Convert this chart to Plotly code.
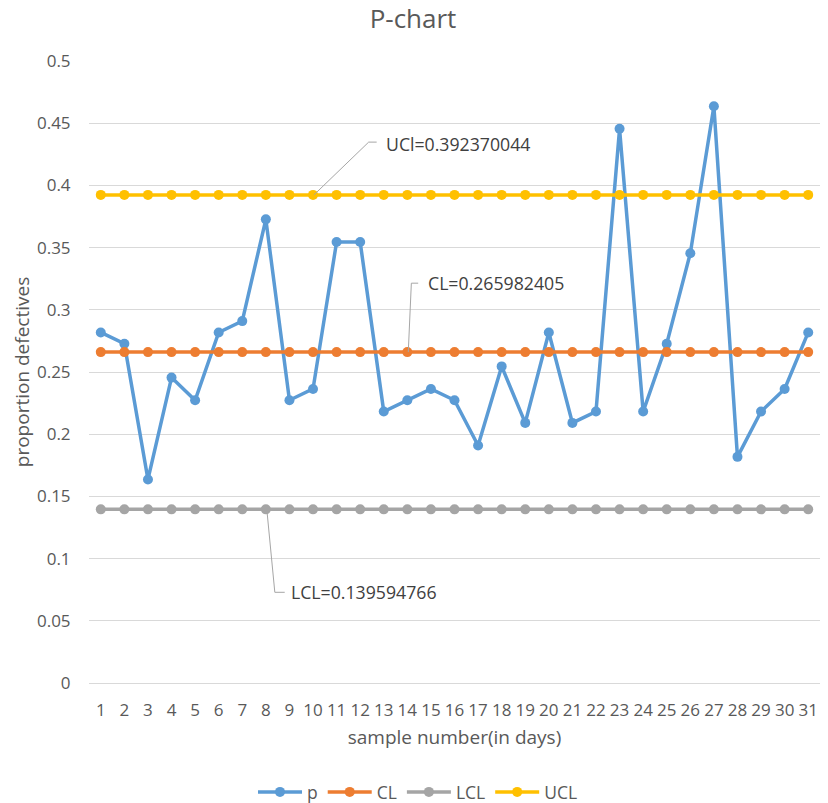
import plotly.graph_objects as go

samples = list(range(1, 32))
p_values = [0.2818, 0.2727, 0.1636, 0.2455, 0.2273, 0.2818, 0.2909, 0.3727,
            0.2273, 0.2364, 0.3545, 0.3545, 0.2182, 0.2273, 0.2364, 0.2273,
            0.1909, 0.2545, 0.2091, 0.2818, 0.2091, 0.2182, 0.4455, 0.2182,
            0.2727, 0.3455, 0.4636, 0.1818, 0.2182, 0.2364, 0.2818]
cl_value = 0.265982405
lcl_value = 0.139594766
ucl_value = 0.392370044
y_ticks = [0, 0.05, 0.1, 0.15, 0.2, 0.25, 0.3, 0.35, 0.4, 0.45, 0.5]
y_tick_labels = ["0", "0.05", "0.1", "0.15", "0.2", "0.25", "0.3", "0.35", "0.4", "0.45", "0.5"]

n = len(samples)
series = [
    ("p", p_values, "#5B9BD5"),
    ("CL", [cl_value] * n, "#ED7D31"),
    ("LCL", [lcl_value] * n, "#A5A5A5"),
    ("UCL", [ucl_value] * n, "#FFC000"),
]

FONT = "Open Sans"
W, H = 812, 795
fig = go.Figure()
for name, vals, color in series:
    fig.add_trace(go.Scatter(
        x=samples, y=vals, name=name, mode="lines+markers",
        line=dict(color=color, width=3.5),
        marker=dict(color=color, size=10),
        cliponaxis=False,
    ))

# leader lines and data labels
leader = dict(color="#A6A6A6", width=1)
labels = [
    (f"UCl={ucl_value}", [(10.04, ucl_value), (12.36, 0.4348), (12.70, 0.4348)], (13.0, 0.4330)),
    (f"CL={cl_value}", [(14.04, cl_value), (14.17, 0.3214), (14.46, 0.3214)], (14.78, 0.3214)),
    (f"LCL={lcl_value}", [(8.04, lcl_value), (8.38, 0.0729), (8.80, 0.0729)], (9.0, 0.0729)),
]
for text, pts, (tx, ty) in labels:
    path = "M " + " L ".join(f"{x},{y}" for x, y in pts)
    fig.add_shape(type="path", path=path, xref="x", yref="y", line=leader)
    fig.add_annotation(x=tx, y=ty, xref="x", yref="y", text=text, showarrow=False,
                       xanchor="left", yanchor="middle",
                       font=dict(family=FONT, size=17.7, color="#404040"))

fig.update_layout(
    width=W, height=H,
    margin=dict(l=81, r=0, t=53, b=120),
    paper_bgcolor="white", plot_bgcolor="white",
    font=dict(family=FONT, size=17, color="#595959"),
    title=dict(text="P-chart", x=405 / W, xref="container", xanchor="center",
               y=1 - 10.5 / H, yref="container", yanchor="middle",
               font=dict(family=FONT, size=26, color="#595959")),
    showlegend=True,
    legend=dict(orientation="h", xref="container", yref="container",
                x=410 / W, xanchor="center", y=1 - 784 / H, yanchor="middle",
                font=dict(family=FONT, size=17.5, color="#595959"),
                itemwidth=44),
    xaxis=dict(range=[0.5, 31.5], tickmode="array", tickvals=samples,
               ticktext=[str(s) for s in samples],
               ticklabeloverflow="allow",
               showgrid=False, zeroline=False, showline=True, linecolor="#D9D9D9",
               ticks="outside", ticklen=12, tickcolor="rgba(0,0,0,0)",
               tickfont=dict(family=FONT, size=17, color="#595959"),
               title=dict(text="sample number(in days)", standoff=10,
                          font=dict(family=FONT, size=19, color="#595959"))),
    yaxis=dict(range=[0, 0.5], tickmode="array", tickvals=y_ticks, ticktext=y_tick_labels,
               showgrid=True, gridcolor="#D9D9D9", gridwidth=1, zeroline=False,
               ticks="outside", ticklen=14, tickcolor="rgba(0,0,0,0)",
               tickfont=dict(family=FONT, size=17, color="#595959"),
               title=dict(text="proportion defectives", standoff=2,
                          font=dict(family=FONT, size=19, color="#595959"))),
)

fig.write_html("out.html")
